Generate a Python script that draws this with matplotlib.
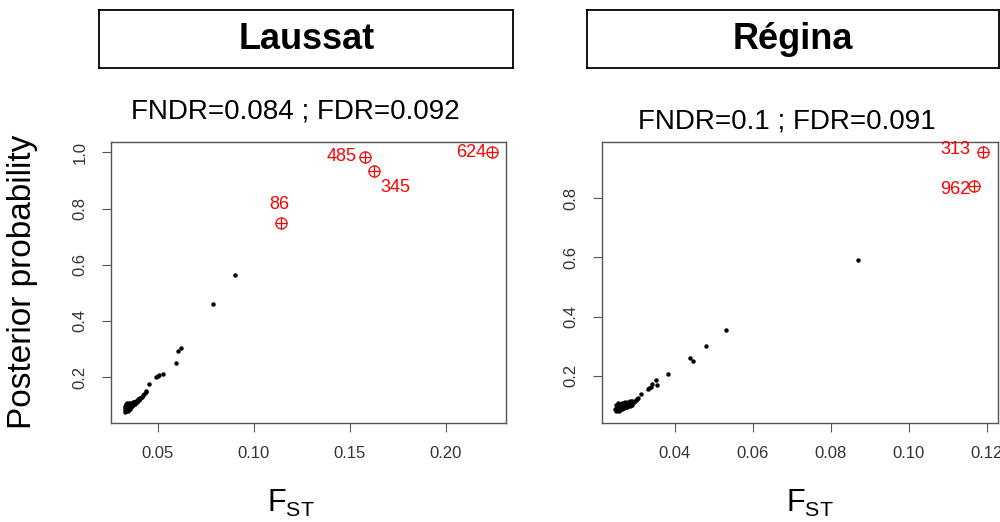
import matplotlib
matplotlib.use('Agg')
import matplotlib.pyplot as plt

plt.rcParams['font.family'] = ['Liberation Sans', 'DejaVu Sans']
plt.rcParams['mathtext.default'] = 'regular'

# Laussat: background loci (FST, posterior probability)
laussat_fst = [0.0328, 0.0330, 0.0331, 0.0332, 0.0334, 0.0335, 0.0336, 0.0338, 0.0339,
               0.0340, 0.0342, 0.0343, 0.0344, 0.0346, 0.0347, 0.0349, 0.0350, 0.0352,
               0.0354, 0.0355, 0.0358, 0.0360, 0.0362, 0.0363, 0.0366, 0.0368, 0.0370,
               0.0373, 0.0375, 0.0377, 0.0380, 0.0383, 0.0385, 0.0390, 0.0393, 0.0395,
               0.0400, 0.0405, 0.0410, 0.0416, 0.0422, 0.0430, 0.0437, 0.0440, 0.0453,
               0.0490, 0.0500, 0.0508, 0.0528, 0.0596, 0.0605, 0.0620, 0.0786, 0.0903]
laussat_prob = [0.090, 0.082, 0.098, 0.076, 0.088, 0.104, 0.080, 0.094, 0.108,
                0.086, 0.100, 0.079, 0.092, 0.106, 0.085, 0.097, 0.090, 0.109,
                0.094, 0.102, 0.088, 0.098, 0.108, 0.093, 0.103, 0.097, 0.110,
                0.101, 0.107, 0.113, 0.104, 0.111, 0.116, 0.110, 0.117, 0.121,
                0.120, 0.125, 0.127, 0.131, 0.136, 0.141, 0.150, 0.146, 0.176,
                0.199, 0.205, 0.209, 0.212, 0.252, 0.292, 0.304, 0.461, 0.562]
# Laussat: outlier loci
laussat_out_fst = [0.2238, 0.1577, 0.1626, 0.1140]
laussat_out_prob = [1.000, 0.982, 0.933, 0.750]
laussat_out_ids = ['624', '485', '345', '86']

# Régina: background loci
regina_fst = [0.0246, 0.0248, 0.0249, 0.0250, 0.0252, 0.0253, 0.0254, 0.0256, 0.0257,
              0.0258, 0.0260, 0.0261, 0.0262, 0.0264, 0.0265, 0.0267, 0.0268, 0.0270,
              0.0272, 0.0273, 0.0276, 0.0278, 0.0279, 0.0282, 0.0284, 0.0285, 0.0288,
              0.0290, 0.0291, 0.0294, 0.0297, 0.0300, 0.0303, 0.0306, 0.0313, 0.0331,
              0.0333, 0.0338, 0.0340, 0.0351, 0.0353, 0.0383, 0.0438, 0.0446, 0.0480,
              0.0530, 0.0869]
regina_prob = [0.088, 0.080, 0.100, 0.092, 0.084, 0.106, 0.096, 0.082, 0.101,
               0.090, 0.104, 0.086, 0.095, 0.109, 0.088, 0.099, 0.092, 0.106,
               0.096, 0.110, 0.100, 0.093, 0.112, 0.104, 0.098, 0.114, 0.106,
               0.101, 0.116, 0.110, 0.114, 0.118, 0.121, 0.124, 0.137, 0.155,
               0.158, 0.163, 0.171, 0.187, 0.169, 0.206, 0.260, 0.249, 0.300,
               0.353, 0.592]
regina_out_fst = [0.1190, 0.1168]
regina_out_prob = [0.956, 0.843]
regina_out_ids = ['313', '962']

fig = plt.figure(figsize=(10, 5.22), dpi=100)

panels = [
    dict(name='Laussat', stats='FNDR=0.084 ; FDR=0.092', stats_y=111,
         fst=laussat_fst, prob=laussat_prob,
         ofst=laussat_out_fst, oprob=laussat_out_prob, oids=laussat_out_ids,
         offsets=[(-4, 0, 'right'), (-6, 1, 'right'), (15, -12, 'center'), (-1, 13, 'center')],
         rect=[0.1107, 0.1891, 0.3953, 0.5395], strip=[0.0993, 0.8692, 0.414, 0.1117],
         xlim=(0.0255, 0.2313), ylim=(0.036, 1.038),
         xticks=[0.05, 0.10, 0.15, 0.20], yticks=[0.2, 0.4, 0.6, 0.8, 1.0],
         xfmt='{:.2f}', yfmt='{:.1f}', flabel_x=0.291),
    dict(name='Régina', stats='FNDR=0.1 ; FDR=0.091', stats_y=122,
         fst=regina_fst, prob=regina_prob,
         ofst=regina_out_fst, oprob=regina_out_prob, oids=regina_out_ids,
         offsets=[(-9, 2, 'right'), (-3, -3, 'right')],
         rect=[0.6017, 0.1891, 0.3966, 0.5395], strip=[0.5867, 0.8692, 0.4118, 0.1117],
         xlim=(0.0212, 0.123), ylim=(0.039, 0.9916),
         xticks=[0.04, 0.06, 0.08, 0.10, 0.12], yticks=[0.2, 0.4, 0.6, 0.8],
         xfmt='{:.2f}', yfmt='{:.1f}', flabel_x=0.810),
]

for p in panels:
    ax = fig.add_axes(p['rect'])
    ax.plot(p['fst'], p['prob'], 'o', color='black', markersize=3.2, markeredgewidth=0)
    ax.plot(p['ofst'], p['oprob'], 'o', markersize=8, markerfacecolor='none',
            markeredgecolor='red', markeredgewidth=0.9)
    ax.plot(p['ofst'], p['oprob'], '+', markersize=8, color='red', markeredgewidth=0.9)
    for x, y, lab, (dx, dy, ha) in zip(p['ofst'], p['oprob'], p['oids'], p['offsets']):
        ax.annotate(lab, (x, y), xytext=(dx, dy), textcoords='offset points',
                    ha=ha, va='center', color='red', fontsize=13)
    ax.set_xlim(p['xlim'])
    ax.set_ylim(p['ylim'])
    ax.set_xticks(p['xticks'])
    ax.set_xticklabels([p['xfmt'].format(v) for v in p['xticks']])
    ax.set_yticks(p['yticks'])
    ax.set_yticklabels([p['yfmt'].format(v) for v in p['yticks']], rotation=90, va='center')
    ax.tick_params(direction='out', length=6.5, width=0.8, color='#555555',
                   labelsize=12, labelcolor='#333333', pad=10)
    for s in ax.spines.values():
        s.set_color('#555555')
        s.set_linewidth(1.0)

    # strip header
    sax = fig.add_axes(p['strip'])
    sax.set_xticks([])
    sax.set_yticks([])
    for s in sax.spines.values():
        s.set_color('black')
        s.set_linewidth(1.3)
    sax.text(0.5, 0.5, p['name'], ha='center', va='center', fontsize=26,
             fontweight='bold', transform=sax.transAxes)

    fig.text((p['rect'][0] + p['rect'][2] / 2) - 0.013, 1 - p['stats_y'] / 522, p['stats'],
             ha='center', va='center', fontsize=20)
    fig.text(p['flabel_x'], 1 - 512 / 522, r'$\mathregular{F_{ST}}$', ha='center',
             va='baseline', fontsize=22)

fig.text(0.023, 1 - 282 / 522, 'Posterior probability', rotation=90, ha='center',
         va='center', fontsize=24)

plt.savefig('out.png', dpi=100)
